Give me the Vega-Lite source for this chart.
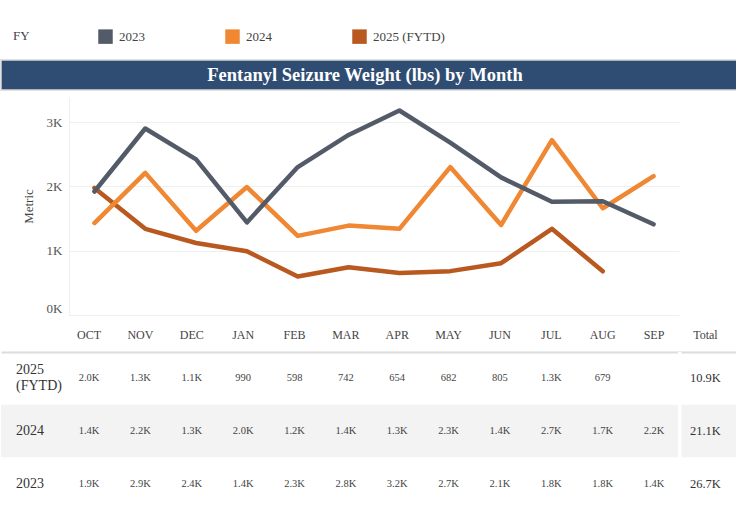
{
  "$schema": "https://vega.github.io/schema/vega-lite/v6.json",
  "padding": {"top": 29, "left": 0, "right": 0, "bottom": 5},
  "autosize": {"type": "pad"},
  "config": {
    "view": {"stroke": null},
    "font": "Liberation Serif"
  },
  "datasets": {
    "monthly": [
      {"FY": "2025 (FYTD)", "month": "OCT", "value": 1975, "label": "2.0K"},
      {"FY": "2025 (FYTD)", "month": "NOV", "value": 1340, "label": "1.3K"},
      {"FY": "2025 (FYTD)", "month": "DEC", "value": 1120, "label": "1.1K"},
      {"FY": "2025 (FYTD)", "month": "JAN", "value": 990, "label": "990"},
      {"FY": "2025 (FYTD)", "month": "FEB", "value": 598, "label": "598"},
      {"FY": "2025 (FYTD)", "month": "MAR", "value": 742, "label": "742"},
      {"FY": "2025 (FYTD)", "month": "APR", "value": 654, "label": "654"},
      {"FY": "2025 (FYTD)", "month": "MAY", "value": 682, "label": "682"},
      {"FY": "2025 (FYTD)", "month": "JUN", "value": 805, "label": "805"},
      {"FY": "2025 (FYTD)", "month": "JUL", "value": 1340, "label": "1.3K"},
      {"FY": "2025 (FYTD)", "month": "AUG", "value": 679, "label": "679"},
      {"FY": "2024", "month": "OCT", "value": 1430, "label": "1.4K"},
      {"FY": "2024", "month": "NOV", "value": 2210, "label": "2.2K"},
      {"FY": "2024", "month": "DEC", "value": 1310, "label": "1.3K"},
      {"FY": "2024", "month": "JAN", "value": 1990, "label": "2.0K"},
      {"FY": "2024", "month": "FEB", "value": 1230, "label": "1.2K"},
      {"FY": "2024", "month": "MAR", "value": 1390, "label": "1.4K"},
      {"FY": "2024", "month": "APR", "value": 1340, "label": "1.3K"},
      {"FY": "2024", "month": "MAY", "value": 2300, "label": "2.3K"},
      {"FY": "2024", "month": "JUN", "value": 1400, "label": "1.4K"},
      {"FY": "2024", "month": "JUL", "value": 2720, "label": "2.7K"},
      {"FY": "2024", "month": "AUG", "value": 1660, "label": "1.7K"},
      {"FY": "2024", "month": "SEP", "value": 2160, "label": "2.2K"},
      {"FY": "2023", "month": "OCT", "value": 1920, "label": "1.9K"},
      {"FY": "2023", "month": "NOV", "value": 2900, "label": "2.9K"},
      {"FY": "2023", "month": "DEC", "value": 2420, "label": "2.4K"},
      {"FY": "2023", "month": "JAN", "value": 1440, "label": "1.4K"},
      {"FY": "2023", "month": "FEB", "value": 2300, "label": "2.3K"},
      {"FY": "2023", "month": "MAR", "value": 2800, "label": "2.8K"},
      {"FY": "2023", "month": "APR", "value": 3180, "label": "3.2K"},
      {"FY": "2023", "month": "MAY", "value": 2680, "label": "2.7K"},
      {"FY": "2023", "month": "JUN", "value": 2140, "label": "2.1K"},
      {"FY": "2023", "month": "JUL", "value": 1760, "label": "1.8K"},
      {"FY": "2023", "month": "AUG", "value": 1770, "label": "1.8K"},
      {"FY": "2023", "month": "SEP", "value": 1410, "label": "1.4K"}
    ],
    "totals": [
      {"FY": "2025 (FYTD)", "month": "Total", "label": "10.9K"},
      {"FY": "2024", "month": "Total", "label": "21.1K"},
      {"FY": "2023", "month": "Total", "label": "26.7K"}
    ],
    "banner": [{"title": "Fentanyl Seizure Weight (lbs) by Month"}]
  },
  "spacing": 6,
  "resolve": {
    "scale": {"color": "independent", "x": "independent", "y": "independent"},
    "legend": {"color": "independent"}
  },
  "vconcat": [
    {
      "width": 736,
      "height": 30,
      "layer": [
        {
          "data": {"name": "totals"},
          "mark": {"type": "rect"},
          "encoding": {
            "color": {
              "field": "FY",
              "type": "nominal",
              "scale": {"domain": ["2023", "2024", "2025 (FYTD)"], "range": ["#545b68", "#ef8733", "#b9581f"]},
              "legend": {
                "orient": "none",
                "legendX": 12,
                "legendY": -31,
                "direction": "horizontal",
                "title": "FY",
                "titleOrient": "left",
                "titleFont": "Liberation Serif",
                "titleFontSize": 13,
                "titleFontWeight": "normal",
                "titleColor": "#444",
                "titlePadding": 68,
                "labelFont": "Liberation Serif",
                "labelFontSize": 13,
                "labelColor": "#444",
                "symbolType": "square",
                "symbolSize": 210,
                "symbolStrokeWidth": 0,
                "labelOffset": 6,
                "columnPadding": 34,
                "gridAlign": "all"
              }
            }
          }
        },
        {
          "data": {"name": "banner"},
          "mark": {"type": "rect", "fill": "#2f4d73", "stroke": "#d8d8d8", "strokeWidth": 1.5}
        },
        {
          "data": {"name": "banner"},
          "mark": {"type": "text", "color": "white", "fontSize": 18.5, "fontWeight": "bold", "font": "Liberation Serif", "dx": -4},
          "encoding": {"text": {"field": "title", "type": "nominal"}}
        }
      ]
    },
    {
      "spacing": 0,
      "hconcat": [
        {
          "width": 21,
          "height": 10,
          "data": {"values": []},
          "mark": "point"
        },
        {
          "width": 610,
          "height": 218,
          "data": {"name": "monthly"},
          "mark": {"type": "line", "strokeWidth": 4.5, "strokeCap": "round", "strokeJoin": "round"},
          "encoding": {
            "x": {
              "field": "month",
              "type": "nominal",
              "scale": {"type": "point", "padding": 0.5, "domain": ["OCT", "NOV", "DEC", "JAN", "FEB", "MAR", "APR", "MAY", "JUN", "JUL", "AUG", "SEP"]},
              "axis": null
            },
            "y": {
              "field": "value",
              "type": "quantitative",
              "scale": {"domain": [0, 3390], "nice": false},
              "axis": {
                "values": [0, 1000, 2000, 3000],
                "labelExpr": "datum.value / 1000 + 'K'",
                "title": "Metric",
                "grid": true,
                "gridColor": "#efefef",
                "ticks": false,
                "domainColor": "#efefef",
                "labelFont": "Liberation Serif",
                "labelFontSize": 13,
                "labelColor": "#555",
                "labelPadding": 7,
                "labelFlush": true,
                "titleFont": "Liberation Serif",
                "titleFontSize": 13,
                "titleFontWeight": "normal",
                "titleColor": "#444",
                "titlePadding": 11
              }
            },
            "color": {
              "field": "FY",
              "type": "nominal",
              "scale": {"domain": ["2023", "2024", "2025 (FYTD)"], "range": ["#545b68", "#ef8733", "#b9581f"]},
              "legend": null
            }
          }
        }
      ]
    },
    {
      "width": 736,
      "height": 158,
      "layer": [
        {
          "data": {"name": "totals"},
          "transform": [{"filter": "datum.FY === '2024'"}],
          "mark": {"type": "rect", "color": "#f3f3f3"},
          "encoding": {
            "y": {
              "field": "FY",
              "type": "nominal",
              "scale": {"type": "band", "domain": ["2025 (FYTD)", "2024", "2023"], "paddingInner": 0, "paddingOuter": 0},
              "axis": null
            }
          }
        },
        {
          "data": {"name": "totals"},
          "mark": {"type": "rule", "color": "white", "strokeWidth": 3},
          "encoding": {
            "x": {
              "datum": "Total",
              "type": "nominal",
              "bandPosition": 0,
              "scale": {
                "type": "band",
                "domain": ["FY", "OCT", "NOV", "DEC", "JAN", "FEB", "MAR", "APR", "MAY", "JUN", "JUL", "AUG", "SEP", "Total"],
                "paddingInner": 0,
                "paddingOuter": 0.165,
                "align": 0.65
              },
              "axis": {
                "orient": "top",
                "labelExpr": "datum.value === 'FY' ? '' : datum.value",
                "title": null,
                "ticks": false,
                "grid": false,
                "domainColor": "#dcdcdc",
                "domainWidth": 2,
                "labelFont": "Liberation Serif",
                "labelFontSize": 12,
                "labelColor": "#444",
                "labelPadding": 11,
                "labelAngle": 0,
                "minExtent": 31
              }
            }
          }
        },
        {
          "data": {"name": "monthly"},
          "mark": {"type": "text", "fontSize": 10.5, "color": "#444", "font": "Liberation Serif"},
          "encoding": {
            "x": {"field": "month", "type": "nominal"},
            "y": {"field": "FY", "type": "nominal"},
            "text": {"field": "label", "type": "nominal"}
          }
        },
        {
          "data": {"name": "totals"},
          "mark": {"type": "text", "fontSize": 12.5, "color": "#333", "font": "Liberation Serif"},
          "encoding": {
            "x": {"field": "month", "type": "nominal"},
            "y": {"field": "FY", "type": "nominal"},
            "text": {"field": "label", "type": "nominal"}
          }
        },
        {
          "data": {"name": "totals"},
          "transform": [{"filter": "datum.FY !== '2025 (FYTD)'"}],
          "mark": {"type": "text", "fontSize": 14, "color": "#333", "font": "Liberation Serif", "align": "left", "dx": 4},
          "encoding": {
            "x": {"datum": "FY", "type": "nominal", "bandPosition": 0},
            "y": {"field": "FY", "type": "nominal"},
            "text": {"field": "FY", "type": "nominal"}
          }
        },
        {
          "data": {"name": "totals"},
          "transform": [{"filter": "datum.FY === '2025 (FYTD)'"}],
          "mark": {"type": "text", "fontSize": 14, "color": "#333", "font": "Liberation Serif", "align": "left", "dx": 4, "dy": -8, "lineBreak": " ", "lineHeight": 16},
          "encoding": {
            "x": {"datum": "FY", "type": "nominal", "bandPosition": 0},
            "y": {"field": "FY", "type": "nominal"},
            "text": {"field": "FY", "type": "nominal"}
          }
        }
      ]
    }
  ]
}
